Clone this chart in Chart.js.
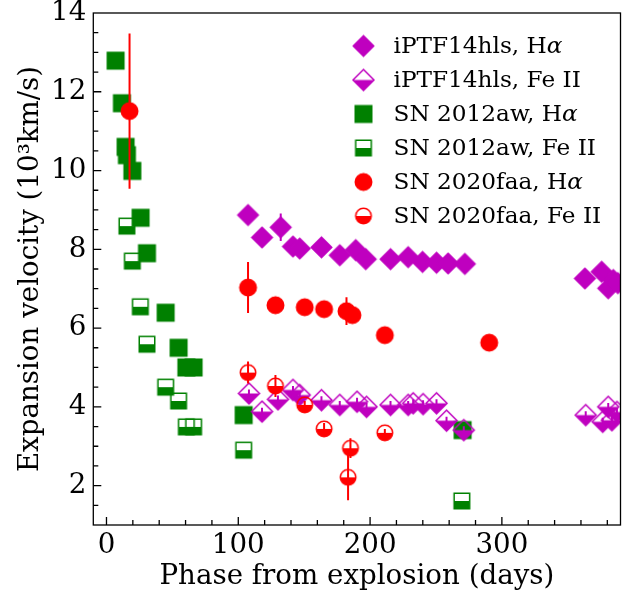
<!DOCTYPE html>
<html>
<head>
<meta charset="utf-8">
<script src="https://cdn.jsdelivr.net/npm/chart.js@4.4.1/dist/chart.umd.min.js"></script>
<style>
	body { margin: 0; background: #fff; }
	canvas { display: block; }
</style>
</head>
<body>
<canvas id="chart" width="632" height="597"></canvas>
<script>
// iPTF14hls
const hlsHaX = [107.4, 118, 132.2, 141.5, 146.6, 163.1, 177, 189.1, 196.7, 215.5, 228.9, 239.8, 250.4, 259.2, 271.9, 363, 375.7, 380.7, 384.5, 388];
const hlsHaY = [8.87, 8.30, 8.56, 8.07, 8.02, 8.05, 7.85, 7.98, 7.75, 7.75, 7.80, 7.68, 7.66, 7.64, 7.63, 7.26, 7.43, 7.01, 7.22, 7.14];
const hlsHaErr = [0, 0, 0.35, 0, 0, 0, 0, 0, 0, 0, 0, 0, 0, 0, 0, 0, 0, 0, 0, 0];
const hlsFeX = [108.1, 118, 130.1, 141.5, 146.6, 163.1, 177, 190.1, 197.3, 215.5, 228.9, 232.7, 240.2, 250.4, 258, 271.1, 363.6, 376.5, 380.7, 383.5, 387.3];
const hlsFeY = [4.34, 3.88, 4.19, 4.43, 4.30, 4.17, 4.05, 4.13, 4.00, 4.05, 4.05, 4.09, 4.07, 4.09, 3.65, 3.41, 3.79, 3.62, 4.00, 3.66, 3.87];
const hlsFeErr = [0.1, 0.1, 0.1, 0.1, 0.1, 0.1, 0.1, 0.1, 0.1, 0.1, 0.1, 0.1, 0.1, 0.1, 0.1, 0.1, 0.1, 0.1, 0.1, 0.1, 0.1];

// SN 2012aw
const awHaX = [6.9, 11.7, 14.5, 15.5, 19.6, 25.9, 30.7, 44.9, 54.7, 60.6, 66.1, 104.1, 270.2];
const awHaY = [12.79, 11.71, 10.60, 10.39, 9.99, 8.80, 7.90, 6.39, 5.50, 5.00, 5.00, 3.79, 3.41];
const awFeX = [15.5, 19.6, 25.7, 30.7, 44.9, 54.7, 60.6, 66.1, 104.1, 269.6];
const awFeY = [8.59, 7.70, 6.54, 5.59, 4.50, 4.15, 3.49, 3.49, 2.90, 1.61];

// SN 2020faa
const faaHaX = [17.5, 107.4, 128.2, 150.4, 165.1, 182.1, 186.6, 211.2, 290.4];
const faaHaY = [11.51, 7.03, 6.58, 6.53, 6.48, 6.43, 6.33, 5.82, 5.63];
const faaHaErr = [1.97, 0.65, 0, 0, 0, 0.35, 0, 0, 0];
const faaFeX = [107.4, 128.2, 150.4, 165.1, 185.1, 183.3, 211.2];
const faaFeY = [4.87, 4.53, 4.05, 3.44, 2.95, 2.21, 3.34];
const faaFeErr = [0.28, 0.28, 0.1, 0.15, 0.25, 0.58, 0.1];

const xTicks = [0, 100, 200, 300];
const yTicks = [2, 4, 6, 8, 10, 12, 14];

const MAGENTA = "#bf00bf";
const GREEN = "#008000";
const RED = "#ff0000";
const FONT = "DejaVu Serif";

// build a marker image, half = only the bottom half filled
function makeMarker(shape, size, color, half){
	const pad = 2;
	const c = document.createElement("canvas");
	c.width = c.height = Math.ceil(size + pad*2);
	const g = c.getContext("2d");
	const m = c.width / 2, r = size / 2;
	const path = () => {
		g.beginPath();
		if(shape === "diamond"){
			g.moveTo(m, m - r); g.lineTo(m + r, m); g.lineTo(m, m + r); g.lineTo(m - r, m); g.closePath();
		} else if(shape === "square"){
			g.rect(m - r, m - r, size, size);
		} else {
			g.arc(m, m, r, 0, Math.PI*2);
		}
	};
	g.fillStyle = color;
	g.strokeStyle = color;
	g.lineWidth = 1.5;
	if(half){
		g.save();
		g.beginPath(); g.rect(0, m, c.width, c.height); g.clip();
		path(); g.fill();
		g.restore();
	} else {
		path(); g.fill();
	}
	path(); g.stroke();
	return c;
}

const mkHlsHa = makeMarker("diamond", 20.5, MAGENTA, false);
const mkHlsFe = makeMarker("diamond", 21, MAGENTA, true);
const mkAwHa = makeMarker("square", 16.5, GREEN, false);
const mkAwFe = makeMarker("square", 15.5, GREEN, true);
const mkFaaHa = makeMarker("circle", 16.5, RED, false);
const mkFaaFe = makeMarker("circle", 15.5, RED, true);

const pts = (xs, ys) => xs.map((x, i) => ({x: x, y: ys[i]}));

// legend rows: marker, text, italic tail
const legendRows = [
	[mkHlsHa, "iPTF14hls, H", "\u03b1"],
	[mkHlsFe, "iPTF14hls, Fe II", ""],
	[mkAwHa, "SN 2012aw, H", "\u03b1"],
	[mkAwFe, "SN 2012aw, Fe II", ""],
	[mkFaaHa, "SN 2020faa, H", "\u03b1"],
	[mkFaaFe, "SN 2020faa, Fe II", ""]
];

const errorBars = {
	id: "errorBars",
	beforeDatasetDraw(chart, args){
		const ds = chart.data.datasets[args.index];
		if(!ds.errors) return;
		const ctx = chart.ctx, area = chart.chartArea, y = chart.scales.y;
		ctx.save();
		ctx.beginPath(); ctx.rect(area.left, area.top, area.right - area.left, area.bottom - area.top); ctx.clip();
		ctx.strokeStyle = ds.errorColor;
		ctx.lineWidth = 2;
		args.meta.data.forEach((el, i) => {
			const e = ds.errors[i];
			if(!e) return;
			const v = ds.data[i].y;
			ctx.beginPath();
			ctx.moveTo(el.x, y.getPixelForValue(v + e));
			ctx.lineTo(el.x, y.getPixelForValue(v - e));
			ctx.stroke();
		});
		ctx.restore();
	}
};

const frameAndLegend = {
	id: "frameAndLegend",
	afterDatasetsDraw(chart){
		const ctx = chart.ctx, a = chart.chartArea;
		const xs = chart.scales.x, ys = chart.scales.y;
		ctx.save();
		ctx.strokeStyle = "#000";
		ctx.lineWidth = 1.3;
		ctx.strokeRect(a.left, a.top, a.right - a.left, a.bottom - a.top);
		// inward ticks, left and bottom only
		ctx.beginPath();
		for(let v = 0; v <= 380; v += 20){
			const px = xs.getPixelForValue(v);
			const len = v % 100 === 0 ? 8 : 5;
			ctx.moveTo(px, a.bottom); ctx.lineTo(px, a.bottom - len);
		}
		for(let v = 1.5; v < 14; v += 0.5){
			const py = ys.getPixelForValue(v);
			const len = v % 2 === 0 ? 8 : 5;
			ctx.moveTo(a.left, py); ctx.lineTo(a.left + len, py);
		}
		ctx.stroke();

		// legend
		ctx.fillStyle = "#000";
		ctx.textBaseline = "alphabetic";
		legendRows.forEach((row, i) => {
			const cy = 46 + i*34;
			const img = row[0];
			ctx.drawImage(img, 363.5 - img.width/2, cy - img.height/2);
			ctx.font = "23.2px '" + FONT + "'";
			ctx.fillText(row[1], 393.5, cy + 7.3);
			if(row[2]){
				const w = ctx.measureText(row[1]).width;
				ctx.font = "italic 23.2px '" + FONT + "'";
				ctx.fillText(row[2], 393.5 + w, cy + 7.3);
			}
		});
		ctx.restore();
	}
};

const tickFont = {family: FONT, size: 27.7};

new Chart(document.getElementById("chart"), {
	type: "scatter",
	data: {
		datasets: [
			{label: "iPTF14hls, H\u03b1", data: pts(hlsHaX, hlsHaY), pointStyle: mkHlsHa, errors: hlsHaErr, errorColor: MAGENTA, order: 3},
			{label: "iPTF14hls, Fe II", data: pts(hlsFeX, hlsFeY), pointStyle: mkHlsFe, errors: hlsFeErr, errorColor: MAGENTA, order: 2},
			{label: "SN 2012aw, H\u03b1", data: pts(awHaX, awHaY), pointStyle: mkAwHa, order: 5},
			{label: "SN 2012aw, Fe II", data: pts(awFeX, awFeY), pointStyle: mkAwFe, order: 4},
			{label: "SN 2020faa, H\u03b1", data: pts(faaHaX, faaHaY), pointStyle: mkFaaHa, errors: faaHaErr, errorColor: RED, order: 1},
			{label: "SN 2020faa, Fe II", data: pts(faaFeX, faaFeY), pointStyle: mkFaaFe, errors: faaFeErr, errorColor: RED, order: 0}
		]
	},
	options: {
		responsive: false,
		animation: false,
		layout: {padding: {top: 13, right: 11.5, left: 0, bottom: 0}},
		elements: {point: {radius: 9, hoverRadius: 9}},
		plugins: {legend: {display: false}, tooltip: {enabled: false}},
		scales: {
			x: {
				type: "linear", min: -10, max: 390,
				afterBuildTicks: s => { s.ticks = xTicks.map(v => ({value: v})); },
				afterFit: s => { s.height = 72; s.paddingLeft = 0; s.paddingRight = 0; },
				grid: {display: false, drawTicks: false},
				border: {display: false},
				ticks: {font: tickFont, color: "#000", padding: 4, maxRotation: 0},
				title: {display: true, text: "Phase from explosion (days)", font: tickFont, color: "#000", padding: {top: 0, bottom: 4}}
			},
			y: {
				type: "linear", min: 1, max: 14,
				afterBuildTicks: s => { s.ticks = yTicks.map(v => ({value: v})); },
				afterFit: s => { s.width = 93.3; s.paddingTop = 0; s.paddingBottom = 0; },
				grid: {display: false, drawTicks: false},
				border: {display: false},
				ticks: {font: tickFont, color: "#000", padding: 7},
				title: {display: true, text: "Expansion velocity (10\u00b3km/s)", font: tickFont, color: "#000", padding: {top: 14, bottom: 2}}
			}
		}
	},
	plugins: [errorBars, frameAndLegend]
});
</script>
</body>
</html>
